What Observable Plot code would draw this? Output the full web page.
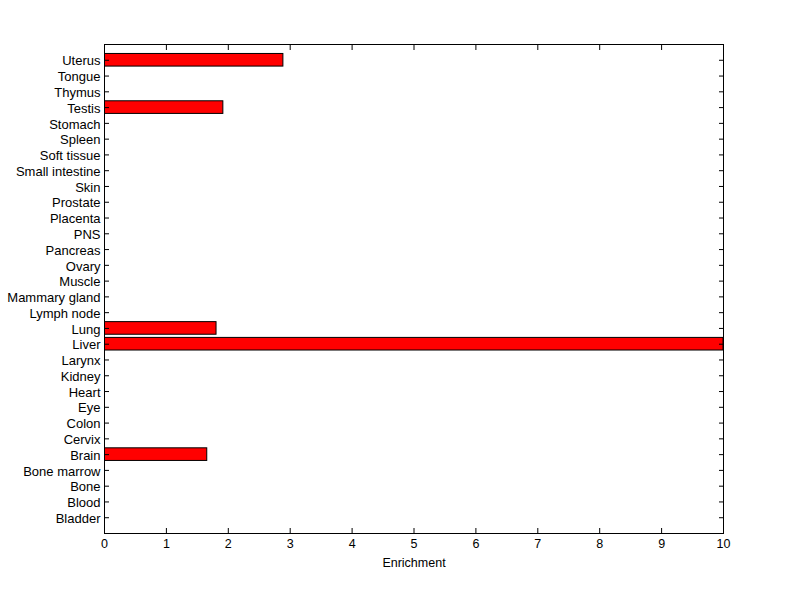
<!DOCTYPE html>
<html>
<head>
<meta charset="utf-8">
<script src="https://cdn.jsdelivr.net/npm/d3@7"></script>
<script src="https://cdn.jsdelivr.net/npm/@observablehq/plot@0.6"></script>
<style>
  html, body { margin: 0; padding: 0; background: #fff; }
  #chart svg { display: block; }
</style>
</head>
<body>
<div id="chart"></div>
<script>
// Categories listed bottom → top
const tissues = ["Bladder","Blood","Bone","Bone marrow","Brain","Cervix","Colon","Eye","Heart","Kidney","Larynx","Liver","Lung","Lymph node","Mammary gland","Muscle","Ovary","Pancreas","PNS","Placenta","Prostate","Skin","Small intestine","Soft tissue","Spleen","Stomach","Testis","Thymus","Tongue","Uterus"];
const enrichment = [0,0,0,0,1.66,0,0,0,0,0,0,10,1.81,0,0,0,0,0,0,0,0,0,0,0,0,0,1.92,0,0,2.89];
const xTicks = [0,1,2,3,4,5,6,7,8,9,10];

const data = tissues.map((t, i) => ({tissue: t, pos: i + 1, value: enrichment[i]}));
const yTicks = data.map(d => d.pos);
const fmtY = p => tissues[p - 1] ?? "";

const font = "'Liberation Sans', Arial, Helvetica, sans-serif";

const chart = Plot.plot({
  width: 800,
  height: 599,
  marginLeft: 104,
  marginRight: 77,
  marginTop: 44,
  marginBottom: 66,
  style: {fontFamily: font, fontSize: "12px", color: "#000", background: "#fff"},
  x: {domain: [0, 10], label: null},
  y: {domain: [0, tissues.length + 1], label: null},
  marks: [
    Plot.rectX(data.filter(d => d.value > 0), {
      x1: 0, x2: "value",
      y1: d => d.pos - 0.4, y2: d => d.pos + 0.4,
      fill: "#ff0000", stroke: "#000", strokeWidth: 1, clip: true
    }),
    // y labels
    Plot.axisY({anchor: "left", ticks: yTicks, tickFormat: fmtY, tickSize: 0, tickPadding: 4, fontSize: 13, dy: 1, label: null}),
    // inward ticks
    Plot.axisY({anchor: "left", ticks: yTicks, tickFormat: () => "", tickSize: -5, label: null}),
    Plot.axisY({anchor: "right", ticks: yTicks, tickFormat: () => "", tickSize: -5, label: null}),
    Plot.axisX({anchor: "bottom", ticks: xTicks, tickFormat: d => String(d), tickSize: 0, tickPadding: 6, fontSize: 12.5, label: null}),
    Plot.axisX({anchor: "bottom", ticks: xTicks, tickFormat: () => "", tickSize: -5, label: "Enrichment", labelAnchor: "center", labelOffset: 33, labelArrow: "none", fontSize: 12.5}),
    Plot.axisX({anchor: "top", ticks: xTicks, tickFormat: () => "", tickSize: -5, label: null}),
    Plot.frame({stroke: "#000", strokeWidth: 1})
  ]
});
document.getElementById("chart").appendChild(chart);
</script>
</body>
</html>
